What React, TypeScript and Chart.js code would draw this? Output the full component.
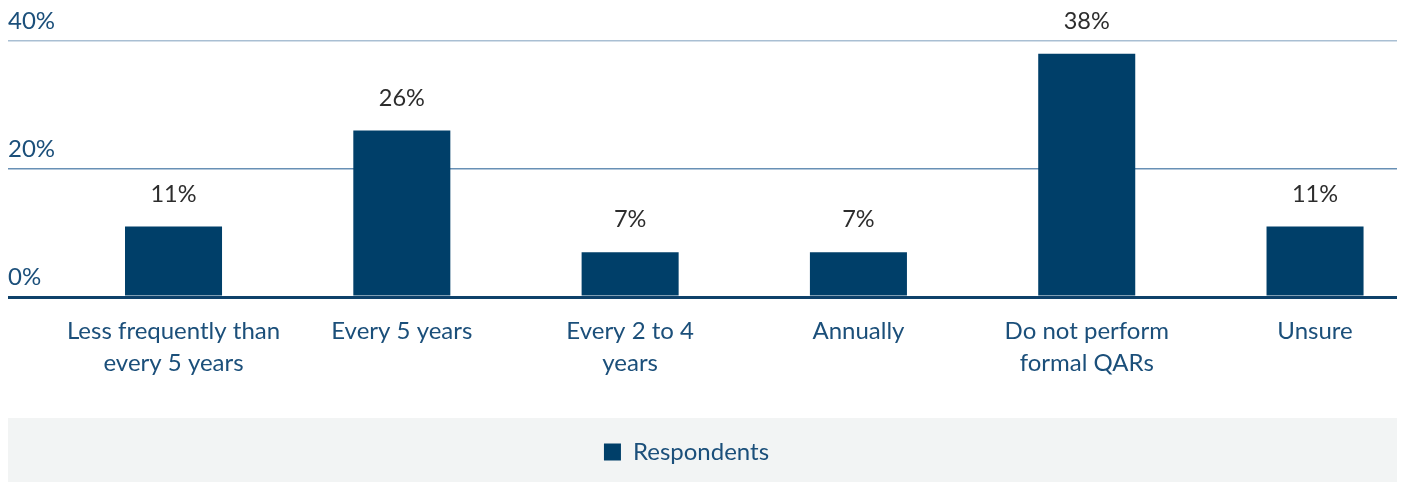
import React, { useEffect, useRef } from "react";
import { Chart, registerables } from "chart.js";

Chart.register(...registerables);

const categories: string[][] = [
  ["Less frequently than", "every 5 years"],
  ["Every 5 years"],
  ["Every 2 to 4", "years"],
  ["Annually"],
  ["Do not perform", "formal QARs"],
  ["Unsure"],
];
const respondents: number[] = [11, 26, 7, 7, 38, 11];
const yTicks: number[] = [0, 20, 40];
const seriesName = "Respondents";

const NAVY = "#003f69";
const BLUE_TEXT = "#1b4f7a";

const dataLabels = {
  id: "dataLabels",
  afterDatasetsDraw(chart: any) {
    const ctx = chart.ctx;
    const meta = chart.getDatasetMeta(0);
    ctx.save();
    ctx.font = "23.5px Lato";
    ctx.fillStyle = "#2d2d2d";
    ctx.textAlign = "center";
    ctx.textBaseline = "alphabetic";
    meta.data.forEach((el: any, i: number) => {
      ctx.fillText(respondents[i] + "%", el.x, el.y - 25);
    });
    ctx.restore();
  },
};

const legendBg = {
  id: "legendBg",
  afterLayout(chart: any) {
    if (chart.legend) {
      chart.legend.right -= 32;
    }
  },
  beforeDraw(chart: any) {
    const ctx = chart.ctx;
    ctx.save();
    ctx.fillStyle = "#f2f4f4";
    ctx.fillRect(0, chart.height - 64, chart.width, 64);
    ctx.restore();
  },
};

export default function App() {
  const ref = useRef<HTMLCanvasElement>(null);
  useEffect(() => {
    if (!ref.current) return;
    const chart = new Chart(ref.current, {
      type: "bar",
      data: {
        datasets: [
          {
            label: seriesName,
            data: respondents.map((v, i) => ({ x: i, y: v })),
            backgroundColor: NAVY,
            borderWidth: 0,
            categoryPercentage: 1,
            barPercentage: 0.425,
          },
        ],
      },
      options: {
        animation: false,
        responsive: true,
        maintainAspectRatio: false,
        layout: { padding: { top: 33, bottom: 8, left: 0, right: 0 } },
        plugins: {
          tooltip: { enabled: false },
          legend: {
            position: "bottom",
            labels: {
              boxWidth: 17,
              boxHeight: 17,
              padding: 43,
              color: BLUE_TEXT,
              font: { family: "Lato", size: 24 },
            },
          },
        },
        scales: {
          x: {
            type: "linear",
            offset: false,
            min: -0.725,
            max: 5.359,
            afterBuildTicks: (scale: any) => {
              scale.ticks = categories.map((_, i) => ({ value: i }));
            },
            grid: { display: false, drawTicks: false, offset: false },
            border: { display: false },
            ticks: {
              autoSkip: false,
              maxRotation: 0,
              padding: 18,
              color: BLUE_TEXT,
              font: { family: "Lato", size: 24, lineHeight: "32px" },
              callback: (v: any) => categories[Math.round(Number(v))] ?? "",
            },
          },
          y: {
            min: 0,
            max: 40,
            afterBuildTicks: (scale: any) => {
              scale.ticks = yTicks.map((v) => ({ value: v }));
            },
            border: { display: false },
            grid: {
              drawTicks: false,
              color: (c: any) =>
                c.tick && c.tick.value === 0
                  ? "#0e416a"
                  : c.tick && c.tick.value === 20
                  ? "#6890b5"
                  : "#a9bfd3",
              lineWidth: (c: any) => (c.tick && c.tick.value === 0 ? 3 : 1.5),
            },
            ticks: {
              mirror: true,
              padding: 0,
              labelOffset: -20,
              color: BLUE_TEXT,
              font: { family: "Lato", size: 24 },
              callback: (v: any) => v + "%",
            },
          },
        },
      },
      plugins: [legendBg, dataLabels],
    });
    return () => chart.destroy();
  }, []);
  return (
    <div style={{ position: "relative", width: "100%", height: 474 }}>
      <canvas ref={ref} />
    </div>
  );
}
